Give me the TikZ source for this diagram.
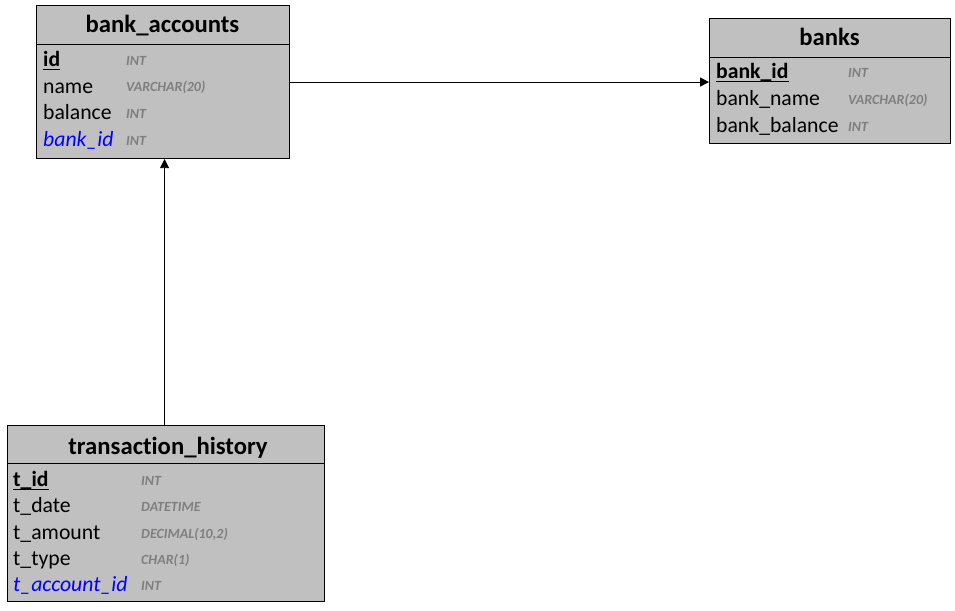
\documentclass[tikz,border=0pt]{standalone}
\usepackage{fontspec}
\setmainfont{Carlito}[Ligatures=NoCommon]
\usetikzlibrary{arrows.meta}
\definecolor{tblgray}{HTML}{C0C0C0}
\definecolor{typegray}{HTML}{7F7F7F}
\definecolor{fkblue}{HTML}{0000FF}
\tikzset{
  tbl/.style={draw=black, fill=tblgray, line width=1.1pt, anchor=north west, inner sep=0pt},
  hdr/.style={anchor=base, font=\fontsize{24.7}{28}\selectfont\bfseries, inner sep=0pt},
  fld/.style={anchor=base west, font=\fontsize{21.7}{25}\selectfont, inner sep=0pt},
  pkfld/.style={anchor=base west, font=\fontsize{21.7}{25}\selectfont\bfseries, inner sep=0pt},
  fkfld/.style={anchor=base west, font=\fontsize{21.7}{25}\selectfont\itshape, text=fkblue, inner sep=0pt},
  typ/.style={anchor=base west, font=\fontsize{14}{16}\selectfont\bfseries\itshape, text=typegray, inner sep=0pt},
  sep/.style={line width=0.9pt},
  pkline/.style={line width=1.2pt},
  rel/.style={line width=0.8pt, -{Triangle[length=9pt,width=9pt]}}
}
\begin{document}
\begin{tikzpicture}[x=1pt,y=-1pt]
\useasboundingbox (0,0) rectangle (955,610);
% bank_accounts
\node[tbl, minimum width=253pt, minimum height=153pt] (ba) at (36,5) {};
\draw[sep] (36,44) -- (289,44);
\node[hdr] (ba-h) at (162.5,33) {bank\_accounts};
\node[pkfld] (ba-id) at (43,66.5) {id};
\draw[pkline] ([yshift=-3pt]ba-id.base west) -- ([yshift=-3pt]ba-id.base east);
\node[typ] (ba-idt) at (126,65.5) {INT};
\node[fld] (ba-name) at (43,93) {name};
\node[typ] (ba-namet) at (126,92) {VARCHAR(20)};
\node[fld] (ba-bal) at (43,119.5) {balance};
\node[typ] (ba-balt) at (126,118.5) {INT};
\node[fkfld] (ba-bid) at (43,146) {bank\_id};
\node[typ] (ba-bidt) at (126,145) {INT};
% banks
\node[tbl, minimum width=241pt, minimum height=125pt] (bk) at (709,18) {};
\draw[sep] (709,57) -- (950,57);
\node[hdr] (bk-h) at (829.5,46) {banks};
\node[pkfld] (bk-id) at (716,78.5) {bank\_id};
\draw[pkline] ([yshift=-3pt]bk-id.base west) -- ([yshift=-3pt]bk-id.base east);
\node[typ] (bk-idt) at (848,77.5) {INT};
\node[fld] (bk-name) at (716,105.5) {bank\_name};
\node[typ] (bk-namet) at (848,104.5) {VARCHAR(20)};
\node[fld] (bk-bal) at (716,132.5) {bank\_balance};
\node[typ] (bk-balt) at (848,131.5) {INT};
% transaction_history
\node[tbl, minimum width=317pt, minimum height=176pt] (th) at (7,425) {};
\draw[sep] (7,463) -- (324,463);
\node[hdr] (th-h) at (168,454) {transaction\_history};
\node[pkfld] (th-id) at (13,486.5) {t\_id};
\draw[pkline] ([yshift=-3pt]th-id.base west) -- ([yshift=-3pt]th-id.base east);
\node[typ] (th-idt) at (141,485.5) {INT};
\node[fld] (th-date) at (13,512.5) {t\_date};
\node[typ] (th-datet) at (141,511.5) {DATETIME};
\node[fld] (th-amt) at (13,539.5) {t\_amount};
\node[typ] (th-amtt) at (141,538.5) {DECIMAL(10,2)};
\node[fld] (th-type) at (13,565.5) {t\_type};
\node[typ] (th-typet) at (141,564.5) {CHAR(1)};
\node[fkfld] (th-acc) at (13,591.5) {t\_account\_id};
\node[typ] (th-acct) at (141,590.5) {INT};
% relations
\draw[rel] (ba.east) -- (ba.east -| bk.west);
\coordinate (thtop) at ([xshift=-1.5pt]th.north);
\draw[rel] (thtop) -- (thtop |- ba.south);
\end{tikzpicture}
\end{document}
